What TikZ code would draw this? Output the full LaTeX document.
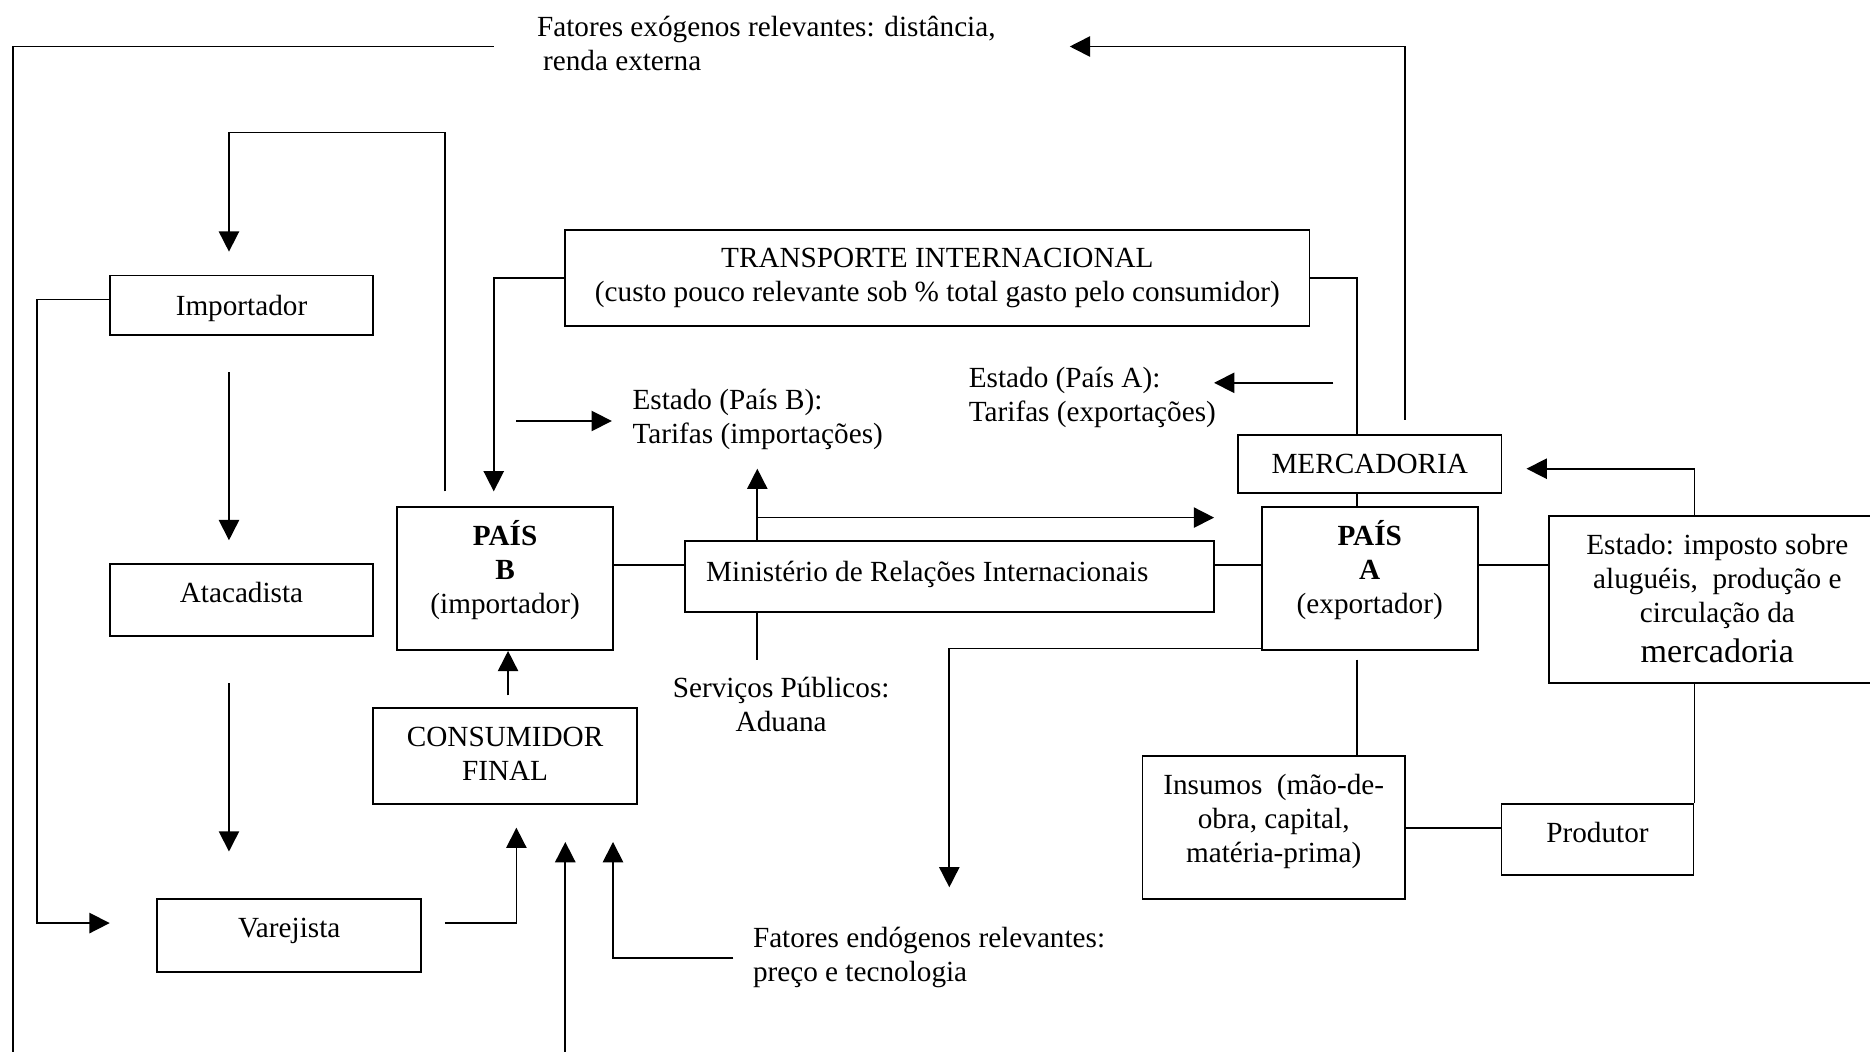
\documentclass[tikz,border=0pt]{standalone}
\usepackage{fontspec}
\setmainfont{Liberation Serif}
\usetikzlibrary{arrows.meta}
\newcommand{\fs}{\fontsize{12.25pt}{14.25pt}\selectfont}
\begin{document}
\begin{tikzpicture}[x=0.5pt,y=-0.5pt,
  bx/.style={draw, line width=0.8pt, inner sep=0pt},
  ln/.style={line width=0.7pt},
  ar/.style={ln, -{Triangle[length=8.5pt,width=8.5pt]}},
  tx/.style={inner sep=0pt, font=\fs},
  lb/.style={tx, align=center},
]
\useasboundingbox (0,0) rectangle (1568,882);

% ---------- boxes ----------
\node[bx, minimum width=110.5pt, minimum height=25pt,
  label={[lb,yshift=-1.5pt]center:{Importador}}] (imp) at (202.5,256) {};
\node[bx, minimum width=110.5pt, minimum height=30pt,
  label={[lb,yshift=3pt]center:{Atacadista}}] (ata) at (202.5,503) {};
\node[bx, minimum width=110.5pt, minimum height=30.5pt,
  label={[lb,yshift=2pt]center:{Varejista}}] (var) at (242.5,784.5) {};
\node[bx, minimum width=110.5pt, minimum height=40pt,
  label={[lb,yshift=0.8pt]center:{CONSUMIDOR\\FINAL}}] (con) at (423.5,634) {};
\node[bx, minimum width=90.5pt, minimum height=60pt,
  label={[lb,yshift=3.5pt]center:{\textbf{PAÍS}\\\textbf{B}\\(importador)}}] (pb) at (423.5,485) {};
\node[bx, minimum width=222pt, minimum height=29.5pt,
  label={[lb,yshift=1pt,xshift=-9.25pt]center:{Ministério de Relações Internacionais}}] (min) at (796,483.5) {};
\node[bx, minimum width=90.5pt, minimum height=60pt,
  label={[lb,yshift=3.5pt]center:{\textbf{PAÍS}\\\textbf{A}\\(exportador)}}] (pa) at (1148.5,485) {};
\node[bx, minimum width=312pt, minimum height=40pt,
  label={[lb]center:{TRANSPORTE INTERNACIONAL\\(custo pouco relevante sob \% total gasto pelo consumidor)}}] (tr) at (786,233) {};
\node[bx, minimum width=110.5pt, minimum height=24pt,
  label={[lb]center:{MERCADORIA}}] (mer) at (1148.5,389) {};
\node[bx, minimum width=141pt, minimum height=70pt,
  label={[lb,yshift=0.5pt]center:{Estado: imposto sobre\\aluguéis,\ \ produção e\\circulação da\\[2.3pt]{\fontsize{14.3pt}{16pt}\selectfont mercadoria}}}] (est) at (1440,503) {};
\node[bx, minimum width=110pt, minimum height=60pt,
  label={[lb,yshift=2.6pt]center:{Insumos\ \ (mão-de-\\obra, capital,\\matéria-prima)}}] (ins) at (1068,694) {};
\node[bx, minimum width=80.5pt, minimum height=30pt,
  label={[lb,yshift=2.8pt]center:{Produtor}}] (pro) at (1339.5,704) {};

% ---------- free texts ----------
\node[tx, align=left, anchor=west] (exo) at (450,36.3)
  {Fatores exógenos relevantes: distância,\\\hspace*{2.5pt}renda externa};
\node[tx, align=left, anchor=west] (estB) at (530,352)
  {Estado (País B):\\Tarifas (importações)};
\node[tx, align=left, anchor=west] (estA) at (812,333)
  {Estado (País A):\\Tarifas (exportações)};
\node[tx, align=center] (serv) at (655,591)
  {Serviços Públicos:\\Aduana};
\node[tx, align=left, anchor=west] (endo) at (631,803)
  {Fatores endógenos relevantes:\\preço e tecnologia};

% ---------- coordinates ----------
\coordinate (exoL) at (414,39);
\coordinate (bl) at (11,890);
\coordinate (merUp) at (1178,352);
\coordinate (exoR) at (897,39);
\coordinate (pbUp) at (373,412);
\coordinate (loopTop) at (192,111);
\coordinate (impIn) at (192,211);
\coordinate (a1s) at (192,312);
\coordinate (a1e) at (192,453);
\coordinate (a2s) at (192,573);
\coordinate (a2e) at (192,714);
\coordinate (varIn) at (92,774);
\coordinate (varOut) at (373,774);
\coordinate (conIn) at (433,694);
\coordinate (conUp) at (426,583);
\coordinate (pbR) at ([yshift=5.5pt]pb.east);
\coordinate (paL) at ([yshift=5.5pt]pa.west);
\coordinate (paR) at ([yshift=5.5pt]pa.east);
\coordinate (minUp) at (635,393);
\coordinate (minR) at (1018,434);
\coordinate (servTop) at (635,553);
\coordinate (estBs) at (433,353);
\coordinate (estBe) at (513,353);
\coordinate (estAs) at (1118,321);
\coordinate (estAe) at (1018,321);
\coordinate (pbIn) at (414,412);
\coordinate (merT) at ([xshift=-5.25pt]mer.north);
\coordinate (merB) at ([xshift=-5.25pt]mer.south);
\coordinate (merIn) at (1280,393);
\coordinate (paSW) at ([yshift=1pt]pa.south west);
\coordinate (paDown) at (796,744);
\coordinate (paBot) at (1138,553);
\coordinate (botS) at (474,890);
\coordinate (botE) at (474,706);
\coordinate (endoL) at (615,803);
\coordinate (endoE) at (514,706);

% ---------- connectors ----------
\draw[ln] (exoL) -| (bl);
\draw[ar] (merUp) |- (exoR);
\draw[ar] (pbUp) |- (loopTop) -- (impIn);
\draw[ar] (a1s) -- (a1e);
\draw[ar] (a2s) -- (a2e);
\draw[ar] ([yshift=2.5pt]imp.west) -- ++(-30pt,0) |- (varIn);
\draw[ar] (varOut) -| (conIn);
\draw[ar] (conUp) -- (conUp |- pb.south);
\draw[ln] (pbR) -- (pbR -| min.west);
\draw[ln] (paL -| min.east) -- (paL);
\draw[ar] (minUp |- min.north) -- (minUp);
\draw[ar] (minR -| minUp) -- (minR);
\draw[ln] (servTop |- min.south) -- (servTop);
\draw[ar] (estBs) -- (estBe);
\draw[ar] (estAs) -- (estAe);
\draw[ar] (tr.west) -| (pbIn);
\draw[ln] (tr.east) -| (merT);
\draw[ln] (merB) -- (merB |- pa.north);
\draw[ar] (pro.north east |- est.north) |- (merIn);
\draw[ln] (paR) -- (paR -| est.west);
\draw[ar] (paSW) -| (paDown);
\draw[ln] (paBot) -- (paBot |- ins.north);
\draw[ln] (ins.east) -- (ins.east -| pro.west);
\draw[ln] (pro.north east) -- (pro.north east |- est.south);
\draw[ar] (botS) -- (botE);
\draw[ar] (endoL) -| (endoE);
\end{tikzpicture}
\end{document}
